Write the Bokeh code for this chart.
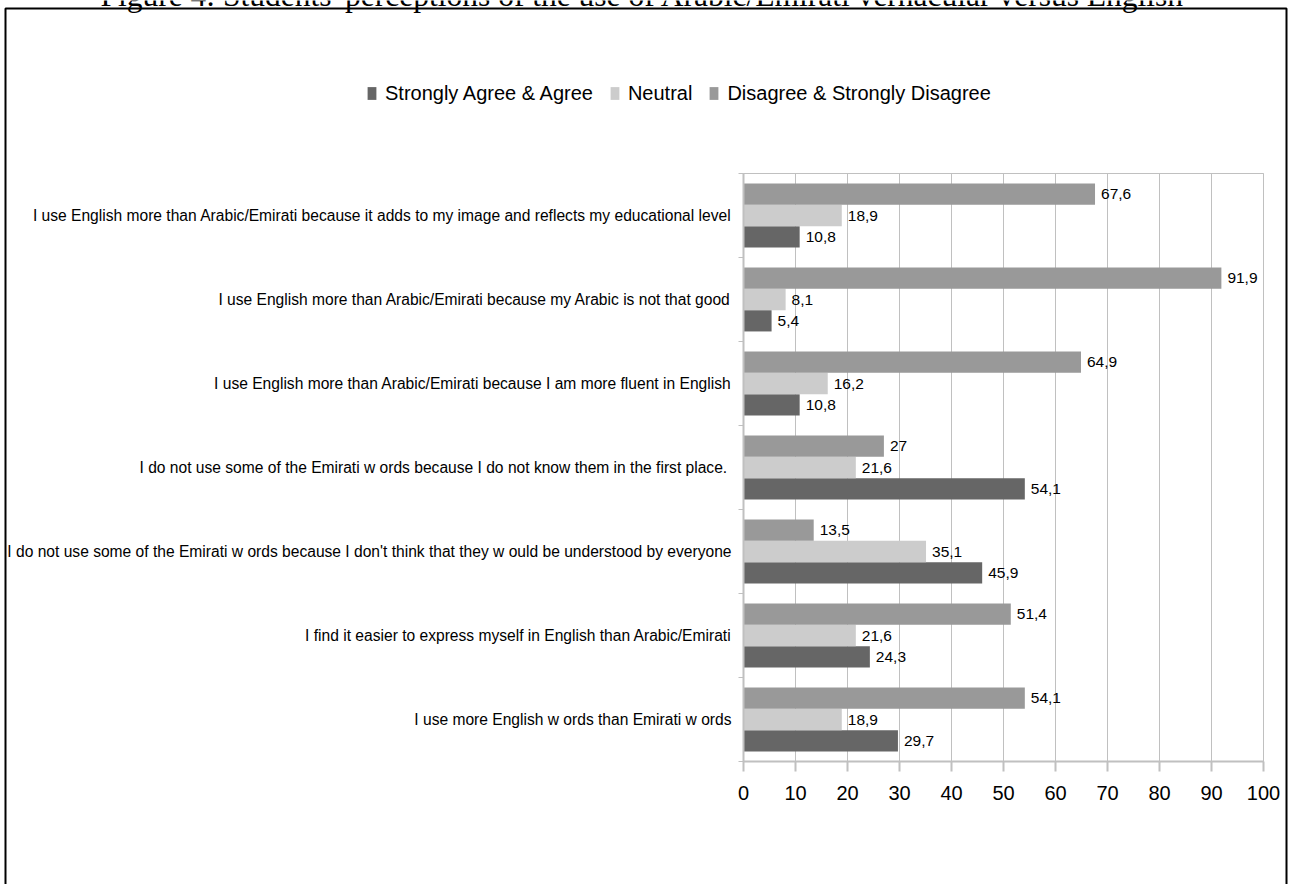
from bokeh.plotting import figure
from bokeh.models import (ColumnDataSource, FixedTicker, LinearAxis, Range1d, Grid,
                          Legend, LegendItem, Label)
from bokeh.transform import dodge
from bokeh.core.properties import value
from bokeh.embed import file_html
from bokeh.resources import INLINE

# Survey statements, listed from the top of the chart downwards
statements = [
    "I use English more than Arabic/Emirati because it adds to my image and reflects my educational level",
    "I use English more than Arabic/Emirati because my Arabic is not that good",
    "I use English more than Arabic/Emirati because I am more fluent in English",
    "I do not use some of the Emirati w ords because I do not know  them in the first place.",
    "I do not use some of the Emirati w ords because I don't think that they w ould be understood by everyone",
    "I find it easier to express myself in English than Arabic/Emirati",
    "I use more English w ords than Emirati w ords",
]
agree = [10.8, 5.4, 10.8, 54.1, 45.9, 24.3, 29.7]
neutral = [18.9, 8.1, 16.2, 21.6, 35.1, 21.6, 18.9]
disagree = [67.6, 91.9, 64.9, 27, 13.5, 51.4, 54.1]

series_names = ["Strongly Agree & Agree", "Neutral", "Disagree & Strongly Disagree"]
series_colors = ["#666666", "#cccccc", "#999999"]
x_ticks = [0, 10, 20, 30, 40, 50, 60, 70, 80, 90, 100]

TITLE = "Figure 4: Students' perceptions of the use of Arabic/Emirati vernacular versus English"

SANS = "Liberation Sans"
GRID_GREY = "#c0c0c0"

# page geometry (pixels)
W, H = 1289, 884
PLOT_L, PLOT_R = 743, 1263      # value 0 and value 100
PLOT_T, PLOT_B = 173, 761       # top and bottom of the statement band

n = len(statements)
pos = [n - 1 - i for i in range(n)]  # top statement gets the highest position
x_min, x_max = 0, 100
y_min, y_max = -0.5, n - 0.5

sx = (PLOT_R - PLOT_L) / (x_max - x_min)
sy = (PLOT_B - PLOT_T) / (y_max - y_min)


def px_to_x(px):
    return x_min + (px - PLOT_L) / sx


def py_to_y(py):
    return y_max - (py - PLOT_T) / sy


def fmt(v):
    return f"{v:g}".replace(".", ",")


source = ColumnDataSource(dict(
    pos=pos,
    agree=agree, neutral=neutral, disagree=disagree,
    agree_txt=[fmt(v) for v in agree],
    neutral_txt=[fmt(v) for v in neutral],
    disagree_txt=[fmt(v) for v in disagree],
))

p = figure(
    frame_width=W, frame_height=H, min_border=0,
    x_range=Range1d(px_to_x(0), px_to_x(W)), y_range=Range1d(py_to_y(H), py_to_y(0)),
    x_axis_location=None, y_axis_location=None,
    output_backend="svg", toolbar_location=None,
)
p.background_fill_color = "white"
p.border_fill_color = "white"
p.outline_line_color = None
p.center = [r for r in p.center if not isinstance(r, Grid)]

# vertical gridlines and the box of the plotting area
p.segment(x0=x_ticks, x1=x_ticks, y0=y_min, y1=y_max, line_color=GRID_GREY, line_width=1)
p.quad(left=x_min, right=x_max, bottom=y_min, top=y_max,
       fill_color=None, line_color=GRID_GREY, line_width=1)

# value axis along the bottom
xaxis = LinearAxis(ticker=FixedTicker(ticks=x_ticks, minor_ticks=[]),
                   fixed_location=y_min, bounds=(x_min, x_max))
xaxis.axis_line_color = GRID_GREY
xaxis.axis_line_width = 2
xaxis.major_tick_line_color = GRID_GREY
xaxis.major_tick_line_width = 2
xaxis.major_tick_in = 0
xaxis.major_tick_out = 10
xaxis.minor_tick_line_color = None
xaxis.major_label_standoff = 14
xaxis.major_label_text_font = SANS
xaxis.major_label_text_font_size = "20px"
xaxis.major_label_text_color = "black"
p.add_layout(xaxis, "below")

# statement axis: labels at the centres, small ticks on the boundaries
yaxis = LinearAxis(
    ticker=FixedTicker(ticks=pos, minor_ticks=[k - 0.5 for k in range(n + 1)]),
    major_label_overrides={pos[i]: statements[i] for i in range(n)},
    fixed_location=x_min, bounds=(y_min, y_max),
)
yaxis.axis_line_color = GRID_GREY
yaxis.axis_line_width = 2
yaxis.major_tick_line_color = None
yaxis.major_tick_in = 0
yaxis.major_tick_out = 0
yaxis.minor_tick_line_color = GRID_GREY
yaxis.minor_tick_line_width = 1
yaxis.minor_tick_in = 0
yaxis.minor_tick_out = 5
yaxis.major_label_standoff = 7
yaxis.major_label_text_font = SANS
yaxis.major_label_text_font_size = "15.6px"
yaxis.major_label_text_color = "black"
p.add_layout(yaxis, "left")

bar_h = 0.2536
offsets = [-bar_h, 0.0, bar_h]
keys = ["agree", "neutral", "disagree"]

renderers = []
for key, off, color in zip(keys, offsets, series_colors):
    r = p.hbar(y=dodge("pos", off, range=p.y_range), left=0, right=key, height=bar_h,
               fill_color=color, line_color=None, source=source)
    renderers.append(r)
    p.text(x=key, y=dodge("pos", off, range=p.y_range), text=key + "_txt",
           x_offset=6, text_baseline="middle", text_align="left",
           text_font=value(SANS), text_font_size="15.5px", text_color="black",
           source=source)

legend = Legend(
    items=[LegendItem(label=name, renderers=[r]) for name, r in zip(series_names, renderers)],
    orientation="horizontal",
    location=(366, H - 105),
    glyph_width=11, glyph_height=16,
    label_standoff=8, spacing=16,
    label_height=24,
    label_text_font=SANS, label_text_font_size="20px", label_text_color="black",
    padding=0, margin=0,
    border_line_color=None, background_fill_alpha=0,
)
p.add_layout(legend, "center")

# caption above the box
p.add_layout(Label(
    x=px_to_x(100), y=py_to_y(-5),
    text=TITLE, text_baseline="alphabetic", text_align="left",
    text_font="Liberation Serif", text_font_size="31.5px", text_color="black",
))

# frame drawn around the whole chart
p.quad(left=px_to_x(5), right=px_to_x(1286), top=py_to_y(8), bottom=py_to_y(H + 50),
       fill_color=None, line_color="black", line_width=2)

open("out.html", "w").write(file_html(p, INLINE))
